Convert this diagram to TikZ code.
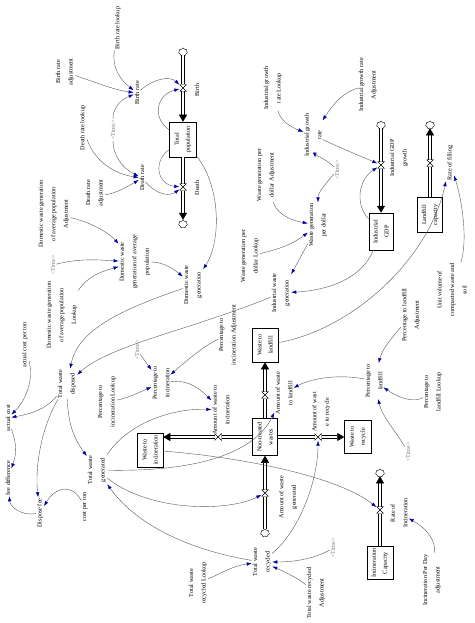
\documentclass[tikz,border=0pt]{standalone}
\usepackage{fontspec}
\setmainfont{Liberation Serif}
\usetikzlibrary{arrows.meta,shapes.symbols}
\tikzset{
  lab/.style={rotate=90,align=center,inner sep=1pt,font=\fontsize{6.2}{12.5}\selectfont},
  timelab/.style={lab,text=gray},
  stock/.style={draw,rotate=90,fill=white,align=center,inner sep=0.5pt,line width=0.5pt,
     font=\fontsize{6.2}{11}\selectfont},
  pipe/.style={draw,line width=0.5pt,double=white,double distance=2.2pt},
  flowtip/.style={-{Triangle[length=7pt,width=8pt]}},
  vvalve/.style={minimum width=7pt,minimum height=7pt,inner sep=0pt,fill=white,
     path picture={\draw[line width=0.45pt] (path picture bounding box.north west) -- (path picture bounding box.north east) -- (path picture bounding box.south west) -- (path picture bounding box.south east) -- cycle;}},
  hvalve/.style={minimum width=7pt,minimum height=7pt,inner sep=0pt,fill=white,
     path picture={\draw[line width=0.45pt] (path picture bounding box.north west) -- (path picture bounding box.south west) -- (path picture bounding box.north east) -- (path picture bounding box.south east) -- cycle;}},
  cloudy/.style={cloud,cloud puffs=7,draw,fill=white,minimum width=9pt,minimum height=8pt,inner sep=0pt,line width=0.4pt},
  conn/.style={draw=black!65,line width=0.4pt,-{Latex[length=5pt,width=3.5pt,color=blue!65!black]}}
}
\begin{document}
\begin{tikzpicture}[x=1pt,y=-1pt]
\fill[white] (0,0) rectangle (474,623);
\path[use as bounding box] (0,0) rectangle (474,623);

% ---------- population sector ----------
\node[lab] (brl) at (118,28) {Birth rate lookup};
\node[lab] (bra) at (65,72) {Birth rate\\adjustment};
\node[lab] (br) at (137,93) {Birth rate};
\node[timelab] (t1) at (113,130) {<Time>};
\node[lab] (drl) at (83,128) {Death rate lookup};
\node[lab] (dr) at (142,178) {Death rate};
\node[lab] (dra) at (95,193) {Death rate\\adjustment};
\node[stock,minimum width=35pt,minimum height=27pt] (pop) at (183,139.5) {Total\\population};
\node[cloudy] (cl1) at (183,52) {};
\node[cloudy] (cl2) at (183,224) {};
\draw[pipe,flowtip] (cl1) -- (pop);
\draw[pipe,flowtip] (pop) -- (cl2);
\node[vvalve] (v1) at (183,88) {};
\node[vvalve] (v2) at (183,187) {};
\node[lab] (birthl) at (197,90) {Birth};
\node[lab] (deathl) at (197,188) {Death};

\node[lab] (dwa) at (54,214) {Domestic waste generation\\of average population\\Adjustment};
\node[timelab] (t2) at (53,265) {<Time>};
\node[lab] (dwl) at (62,315) {Domestic waste generation\\of average population\\Lookup};
\node[lab] (dwgap) at (135,262) {Domestic waste\\generation of average\\population};
\node[lab] (dwg) at (193,285) {Domestic waste\\generation};

% ---------- industry sector ----------
\node[lab] (igrl) at (273,88) {Industrial growth\\rate Lookup};
\node[lab] (igra) at (368,85) {Industrial growth rate\\Adjustment};
\node[lab] (igr) at (313,135) {Industrial growth\\rate};
\node[stock,minimum width=37pt,minimum height=24pt] (gdp) at (381,231.5) {Industrial\\GDP};
\node[cloudy] (cl3) at (381,125) {};
\draw[pipe,flowtip] (cl3) -- (gdp);
\node[vvalve] (v3) at (381,165) {};
\node[lab] (gdpl) at (399,158) {Industrial GDP\\growth};
\node[timelab] (t3) at (337,170) {<Time>};
\node[lab] (wgpda) at (266,175) {Waste generation per\\dollar Adjustment};
\node[lab] (wgpd) at (318,225) {Waste generation\\per dollar};
\node[lab] (wgpdl) at (250,256) {Waste generation per\\dollar Lookup};
\node[lab] (iwg) at (281,293) {Industrial waste\\generation};

\node[stock,minimum width=35pt,minimum height=25pt] (lfc) at (430,215) {Landfill\\capacity};
\node[cloudy] (cl4) at (430,125) {};
\draw[pipe,flowtip] (lfc) -- (cl4);
\node[vvalve] (v4) at (430,163) {};
\node[lab] (rof) at (450,163) {Rate of filling};
\node[lab] (uv) at (452,290) {Unit volume of\\compacted waste and\\soil};

% ---------- waste treatment ----------
\node[lab] (acpt) at (25,345) {actual cost per ton};
\node[lab] (ac) at (8,418) {actual cost};
\node[lab] (twd) at (67,384) {Total waste\\disposed};
\node[lab] (ptil) at (107,402) {Percentage to\\incineration Lookup};
\node[timelab] (t4) at (137,350) {<Time>};
\node[lab] (pti) at (161,383) {Percentage to\\incineration};
\node[lab] (ptia) at (228,335) {Percentage to\\incineration Adjustment};
\node[lab] (awil) at (221,410) {Amount of waste to\\incineration};

\node[stock,minimum width=34pt,minimum height=26pt] (wl) at (265,345) {Waste to\\landfill};
\node[stock,minimum width=37pt,minimum height=25pt] (nt) at (265,437) {Non-treated\\wastes};
\node[stock,minimum width=33pt,minimum height=27pt] (wr) at (358,437) {Waste to\\recycle};
\node[stock,minimum width=34pt,minimum height=26pt] (wi) at (150,450) {Waste to\\incineration};
\node[cloudy] (cl5) at (265,533) {};
\draw[pipe,flowtip] (nt) -- (wl);
\draw[pipe,flowtip] (nt) -- (wr);
\draw[pipe,flowtip] (nt) -- (wi.south |- nt);
\draw[pipe,flowtip] (cl5) -- (nt);
\node[vvalve] (v7) at (265,395) {};
\node[hvalve] (v6) at (318,437) {};
\node[hvalve] (v5) at (218,437) {};
\node[vvalve] (v8) at (265,493) {};
\node[lab] (awll) at (284,393) {Amount of waste\\to landfill};
\node[lab] (awrl) at (321,412) {Amount of wast\\e to recycle};
\node[lab] (awgl) at (288,497) {Amount of waste\\generated};

\node[lab] (ptl) at (374,381) {Percentage to\\landfill};
\node[lab] (ptla) at (411,315) {Percentage to landfill\\Adjustment};
\node[lab] (ptll) at (433,392) {Percentage to\\landfill Lookup};
\node[timelab] (t5) at (408,452) {<Time>};

\node[lab] (twg) at (97,470) {Total waste\\generated};
\node[lab] (fd) at (8,478) {fee difference};
\node[lab] (df) at (40,513) {Dispose fee};
\node[lab] (cpt) at (85,507) {cost per ton};

\node[lab] (twr) at (262,562) {Total waste\\recycled};
\node[lab] (twrl) at (198,583) {Total waste\\recycled Lookup};
\node[lab] (twra) at (316,593) {Total waste recycled\\Adjustment};
\node[timelab] (t6) at (333,548) {<Time>};

\node[stock,minimum width=33pt,minimum height=26pt] (ic) at (380,563) {Incineration\\Capacity};
\node[cloudy] (cl6) at (380,473) {};
\draw[pipe,flowtip] (ic) -- (cl6);
\node[vvalve] (v9) at (380,510) {};
\node[lab] (roi) at (399,513) {Rate of\\Incineration};
\node[lab] (ipda) at (432,580) {Incineration Per Day\\adjustment};

% ---------- connectors ----------
\draw[conn] (brl) .. controls (112,65) and (118,78) .. (br);
\draw[conn] (bra) .. controls (100,84) and (115,90) .. (br);
\draw[conn] (t1) .. controls (113,110) and (118,101) .. (br);
\draw[conn] (br) .. controls (155,78) and (170,76) .. (v1);
\draw[conn] (pop) .. controls (152,118) and (156,95) .. (v1);
\draw[conn] (t1) .. controls (113,155) and (122,168) .. (dr);
\draw[conn] (drl) .. controls (95,162) and (115,174) .. (dr);
\draw[conn] (dra) .. controls (110,195) and (122,190) .. (dr);
\draw[conn] (dr) .. controls (158,196) and (170,196) .. (v2);
\draw[conn] (pop) .. controls (152,162) and (158,185) .. (v2);
\draw[conn] (pop) .. controls (220,185) and (222,240) .. (dwg);
\draw[conn] (dwa) .. controls (90,222) and (108,232) .. (dwgap);
\draw[conn] (t2) .. controls (80,258) and (100,260) .. (dwgap);
\draw[conn] (dwl) .. controls (88,276) and (100,272) .. (dwgap);
\draw[conn] (dwgap) .. controls (160,262) and (170,266) .. (dwg);
\draw[conn] (dwg) .. controls (120,310) and (78,330) .. (twd);
\draw[conn] (iwg) .. controls (190,330) and (110,345) .. (twd);

\draw[conn] (igrl) .. controls (280,120) and (290,127) .. (igr);
\draw[conn] (igra) .. controls (345,92) and (336,100) .. (igr);
\draw[conn] (igr) .. controls (345,150) and (365,158) .. (v3);
\draw[conn] (gdp) .. controls (355,205) and (358,180) .. (v3);
\draw[conn] (t3) .. controls (325,158) and (315,156) .. (igr);
\draw[conn] (t3) .. controls (325,185) and (318,192) .. (wgpd);
\draw[conn] (wgpda) .. controls (276,212) and (288,220) .. (wgpd);
\draw[conn] (wgpdl) .. controls (275,250) and (290,246) .. (wgpd);
\draw[conn] (wgpd) -- (iwg);
\draw[conn] (gdp) .. controls (362,278) and (330,290) .. (iwg);
\draw[conn] (wl) .. controls (350,330) and (428,262) .. (rof);
\draw[conn] (uv) .. controls (468,240) and (462,200) .. (rof);

\draw[conn] (acpt) .. controls (34,380) and (26,400) .. (ac);
\draw[conn] (twd) .. controls (45,410) and (30,414) .. (ac);
\draw[conn] (twd) .. controls (68,425) and (75,440) .. (twg);
\draw[conn] (twd) .. controls (40,430) and (35,470) .. (df);
\draw[conn] (ac) .. controls (15,440) and (18,450) .. (fd);
\draw[conn] (df) .. controls (20,516) and (10,506) .. (fd);
\draw[conn] (cpt) .. controls (72,484) and (56,486) .. (df);
\draw[conn] (ptil) .. controls (128,398) and (140,392) .. (pti);
\draw[conn] (t4) -- (pti);
\draw[conn] (ptia) .. controls (205,345) and (185,362) .. (pti);
\draw[conn] (pti) .. controls (184,380) and (195,384) .. (awil);
\draw[conn] (twg) .. controls (130,420) and (178,408) .. (awil);
\draw[conn] (twg) .. controls (200,472) and (255,452) .. (awll);
\draw[conn] (twg) .. controls (150,512) and (228,512) .. (v8);
\draw[conn] (twr) .. controls (200,552) and (140,530) .. (twg);
\draw[conn] (wi) .. controls (250,458) and (340,478) .. (v9);
\draw[conn] (twr) .. controls (300,530) and (318,480) .. (v6);
\draw[conn] (twrl) .. controls (220,574) and (232,566) .. (twr);
\draw[conn] (t6) .. controls (316,558) and (296,562) .. (twr);
\draw[conn] (twra) .. controls (300,580) and (290,574) .. (twr);
\draw[conn] (ipda) .. controls (436,540) and (426,528) .. (roi);
\draw[conn] (ptla) .. controls (390,340) and (382,350) .. (ptl);
\draw[conn] (ptll) .. controls (415,402) and (402,400) .. (ptl);
\draw[conn] (t5) .. controls (396,432) and (382,416) .. (ptl);
\draw[conn] (ptl) .. controls (340,374) and (312,378) .. (awll);
\end{tikzpicture}
\end{document}
